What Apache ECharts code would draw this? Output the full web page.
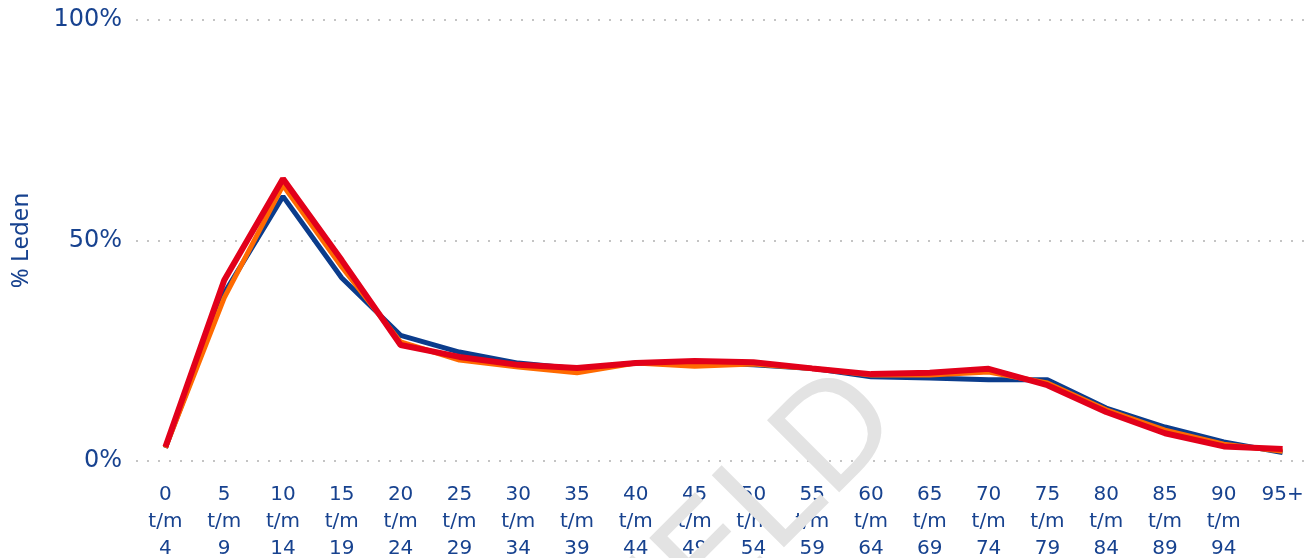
<!DOCTYPE html>
<html>
<head>
<meta charset="utf-8">
<script src="https://cdn.jsdelivr.net/npm/echarts@6/dist/echarts.min.js"></script>
<style>
  html, body { margin: 0; padding: 0; background: #fff; }
  #main { width: 1306px; height: 558px; }
</style>
</head>
<body>
<div id="main"></div>
<script>
// leeftijdsgroepen
var categories = ['0\nt/m\n4', '5\nt/m\n9', '10\nt/m\n14', '15\nt/m\n19', '20\nt/m\n24',
  '25\nt/m\n29', '30\nt/m\n34', '35\nt/m\n39', '40\nt/m\n44', '45\nt/m\n49',
  '50\nt/m\n54', '55\nt/m\n59', '60\nt/m\n64', '65\nt/m\n69', '70\nt/m\n74',
  '75\nt/m\n79', '80\nt/m\n84', '85\nt/m\n89', '90\nt/m\n94', '95+'];

var blauw  = [3.0, 38.0, 60.0, 41.5, 28.5, 24.7, 22.2, 20.9, 22.2, 22.4, 21.8, 21.0, 19.1, 18.8, 18.4, 18.4, 12.0, 7.7, 4.3, 1.9];
var oranje = [3.0, 37.0, 62.5, 44.0, 27.0, 22.9, 21.3, 20.0, 22.2, 21.5, 22.0, 21.0, 19.5, 19.5, 20.2, 17.7, 11.6, 7.0, 3.8, 2.2];
var rood   = [3.2, 41.0, 64.0, 45.5, 26.3, 23.6, 21.8, 21.1, 22.2, 22.7, 22.4, 21.0, 19.7, 20.0, 20.9, 17.2, 11.1, 6.3, 3.3, 2.7];

var yTicks = [0, 50, 100];

var textColor = '#17428f';

var chart = echarts.init(document.getElementById('main'));

var option = {
  animation: false,
  grid: { left: 136, top: 20, width: 1176, height: 441, outerBoundsMode: 'none', containLabel: false },
  xAxis: {
    type: 'category',
    data: categories,
    boundaryGap: true,
    axisLine: { show: false },
    axisTick: { show: false },
    axisLabel: {
      interval: 0,
      color: textColor,
      fontFamily: 'DejaVu Sans',
      fontSize: 20,
      lineHeight: 27,
      margin: 20
    }
  },
  yAxis: {
    type: 'value',
    min: yTicks[0],
    max: yTicks[yTicks.length - 1],
    interval: 50,
    name: '% Leden',
    nameLocation: 'middle',
    nameGap: 103,
    nameTextStyle: { color: textColor, fontFamily: 'Noto Sans', fontSize: 24 },
    axisLine: { show: false },
    axisTick: { show: false },
    axisLabel: {
      color: textColor,
      fontFamily: 'DejaVu Sans',
      fontSize: 24,
      margin: 14,
      formatter: '{value}%'
    },
    splitLine: {
      lineStyle: { color: '#c4c4c4', width: 2, type: [2, 9] }
    }
  },
  graphic: [
    {
      // watermerk
      type: 'text',
      z: 100,
      x: 880,
      y: 400,
      rotation: Math.PI / 4,
      style: {
        text: 'VOORBEELD',
        fill: '#e3e3e3',
        font: '140px "DejaVu Sans"',
        align: 'right',
        verticalAlign: 'middle'
      }
    }
  ],
  series: [
    {
      name: 'blauw', type: 'line', data: blauw, symbol: 'none', z: 2,
      lineStyle: { color: '#0b3c8c', width: 5 }
    },
    {
      name: 'oranje', type: 'line', data: oranje, symbol: 'none', z: 3,
      lineStyle: { color: '#ff6a00', width: 5 }
    },
    {
      name: 'rood', type: 'line', data: rood, symbol: 'none', z: 4,
      lineStyle: { color: '#e2001a', width: 6 }
    }
  ]
};

chart.setOption(option);
</script>
</body>
</html>
